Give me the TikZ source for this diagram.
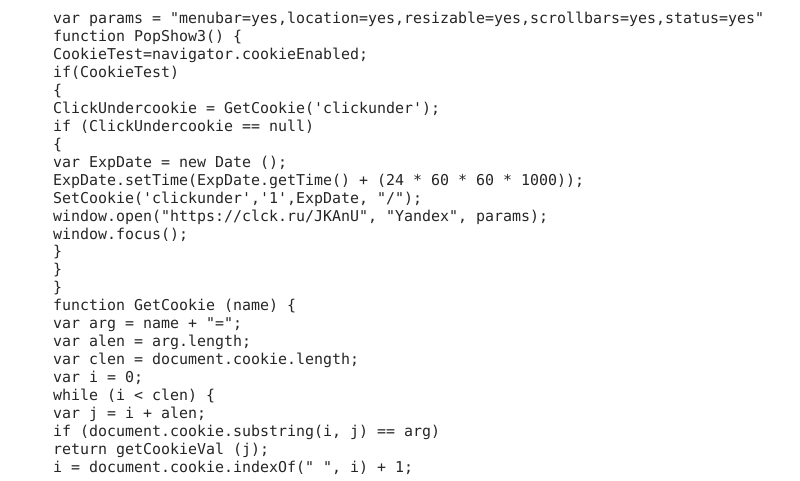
\documentclass[tikz,border=0pt]{standalone}
\usepackage{fontspec}
\newfontfamily\codefont{DejaVu Sans Mono}
\tikzset{
  codeline/.style={anchor=base west, inner sep=0pt, text=black!85,
    font=\codefont\fontsize{14.95}{18}\selectfont}
}
\begin{document}
\begin{tikzpicture}[x=1pt, y=1pt]
              \useasboundingbox (0, 0) rectangle (800, 480);
              \fill[white] (0, 0) rectangle (800, 480);
              % PopShow3
              \node[codeline] (l1) at (53, 456.5) {var params = "menubar=yes,location=yes,resizable=yes,scrollbars=yes,status=yes"};
              \node[codeline] (l2) at (53, 438.54) {function PopShow3() \{};
              \node[codeline] (l3) at (53, 420.58) {CookieTest=navigator.cookieEnabled;};
              \node[codeline] (l4) at (53, 402.62) {if(CookieTest)};
              \node[codeline] (l5) at (53, 384.66) {\{};
              \node[codeline] (l6) at (53, 366.7) {ClickUndercookie = GetCookie('clickunder');};
              \node[codeline] (l7) at (53, 348.74) {if (ClickUndercookie == null)};
              \node[codeline] (l8) at (53, 330.78) {\{};
              \node[codeline] (l9) at (53, 312.82) {var ExpDate = new Date ();};
              \node[codeline] (l10) at (53, 294.86) {ExpDate.setTime(ExpDate.getTime() + (24 * 60 * 60 * 1000));};
              \node[codeline] (l11) at (53, 276.9) {SetCookie('clickunder','1',ExpDate, "/");};
              \node[codeline] (l12) at (53, 258.94) {window.open("https://clck.ru/JKAnU", "Yandex", params);};
              \node[codeline] (l13) at (53, 240.98) {window.focus();};
              \node[codeline] (l14) at (53, 223.02) {\}};
              \node[codeline] (l15) at (53, 205.06) {\}};
              \node[codeline] (l16) at (53, 187.1) {\}};
              % GetCookie
              \node[codeline] (l17) at (53, 169.14) {function GetCookie (name) \{};
              \node[codeline] (l18) at (53, 151.18) {var arg = name + "=";};
              \node[codeline] (l19) at (53, 133.22) {var alen = arg.length;};
              \node[codeline] (l20) at (53, 115.26) {var clen = document.cookie.length;};
              \node[codeline] (l21) at (53, 97.3) {var i = 0;};
              \node[codeline] (l22) at (53, 79.34) {while (i < clen) \{};
              \node[codeline] (l23) at (53, 61.38) {var j = i + alen;};
              \node[codeline] (l24) at (53, 43.42) {if (document.cookie.substring(i, j) == arg)};
              \node[codeline] (l25) at (53, 25.46) {return getCookieVal (j);};
              \node[codeline] (l26) at (53, 7.5) {i = document.cookie.indexOf(" ", i) + 1;};
\end{tikzpicture}
\end{document}
